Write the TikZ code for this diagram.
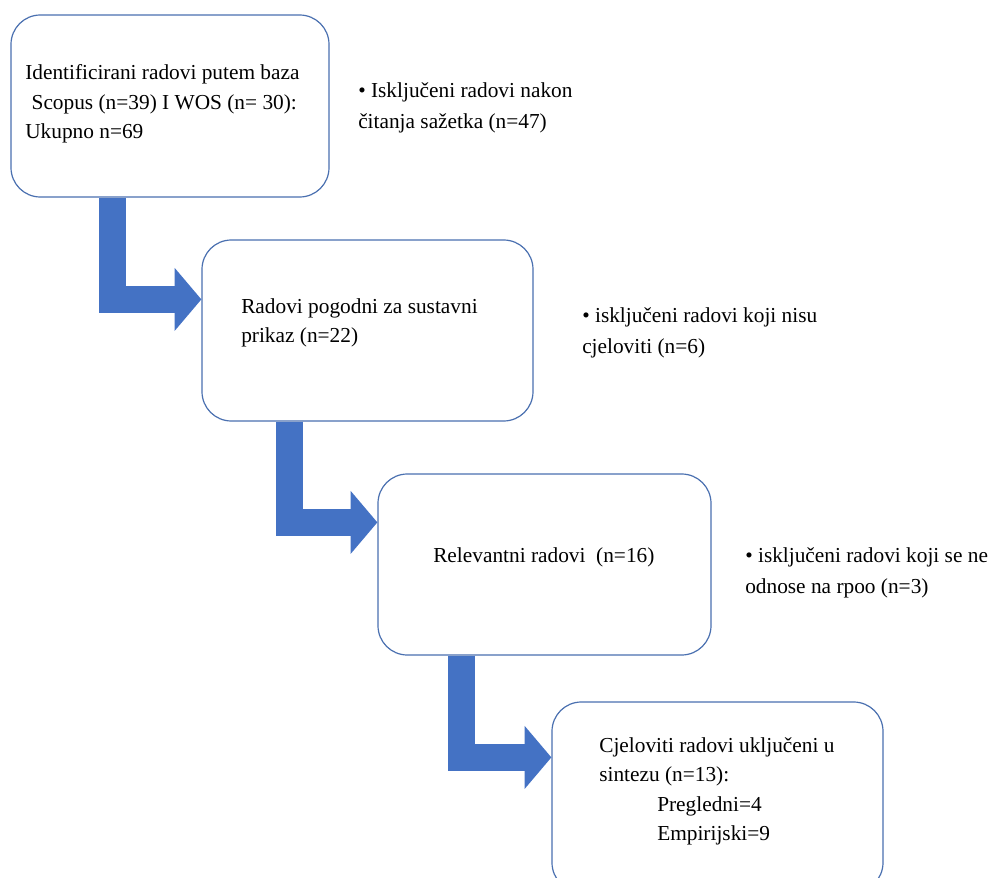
\documentclass[tikz,border=0pt]{standalone}
\usepackage{fontspec}
\setmainfont{Liberation Serif}
\usetikzlibrary{arrows.meta,calc}
\definecolor{flowblue}{HTML}{4472C4}
\definecolor{edgeblue}{HTML}{4A70B0}
\tikzset{
  stage/.style={draw=edgeblue,line width=0.9pt,rounded corners=22pt,fill=white},
  stagetext/.style={anchor=north west,align=left,inner sep=0pt,font=\fontsize{16}{22}\selectfont},
  excluded/.style={anchor=north west,align=left,inner sep=0pt,font=\fontsize{16}{23}\selectfont},
  bend arrow/.style={draw=flowblue,line width=20pt,line join=miter,-{Triangle[length=20pt,width=46pt,fill=flowblue]}}
}
\begin{document}
\begin{tikzpicture}[x=0.75pt,y=-0.75pt]
\useasboundingbox (0,0) rectangle (990,878);
% the four stages
\node[stage,minimum width=238.5pt,minimum height=136.5pt] (ident) at (170,106) {};
\node[stage,minimum width=248.25pt,minimum height=135.75pt] (pogodni) at (367.5,330.5) {};
\node[stage,minimum width=249.75pt,minimum height=135.75pt] (relevantni) at (544.5,564.5) {};
\node[stage,minimum width=248.25pt,minimum height=142.5pt] (sinteza) at (717.5,797) {};
%% the bent arrows
\draw[bend arrow] ($(ident.south west)+(102,0)$) |- ($(pogodni.north west)+(0,60)$);
\draw[bend arrow] ($(pogodni.south west)+(88,0)$) |- ($(relevantni.north west)+(0,49)$);
\draw[bend arrow] ($(relevantni.south west)+(84,0)$) |- ($(sinteza.north west)+(0,56)$);
%% the texts in the stages
\node[stagetext] (identtext) at (25,64.4) {Identificirani radovi putem baza\\\hspace*{0.3em}Scopus (n=39) I WOS (n= 30):\\Ukupno n=69};
\node[stagetext] (pogodnitext) at (241,298.4) {Radovi pogodni za sustavni\\prikaz (n=22)};
\node[stagetext] (relevantnitext) at (433,547.2) {Relevantni radovi~ (n=16)};
\node[stagetext] (sintezatext) at (599,737.4) {Cjeloviti radovi uključeni u\\sintezu (n=13):\\\hspace*{43.5pt}Pregledni=4\\\hspace*{43.5pt}Empirijski=9};
%% the exclusions
\node[excluded] (excl1) at (358,82.4) {• Isključeni radovi nakon\\čitanja sažetka (n=47)};
\node[excluded] (excl2) at (582,307.4) {• isključeni radovi koji nisu\\cjeloviti (n=6)};
\node[excluded] (excl3) at (745,547.4) {• isključeni radovi koji se ne\\odnose na rpoo (n=3)};
\end{tikzpicture}
\end{document}
